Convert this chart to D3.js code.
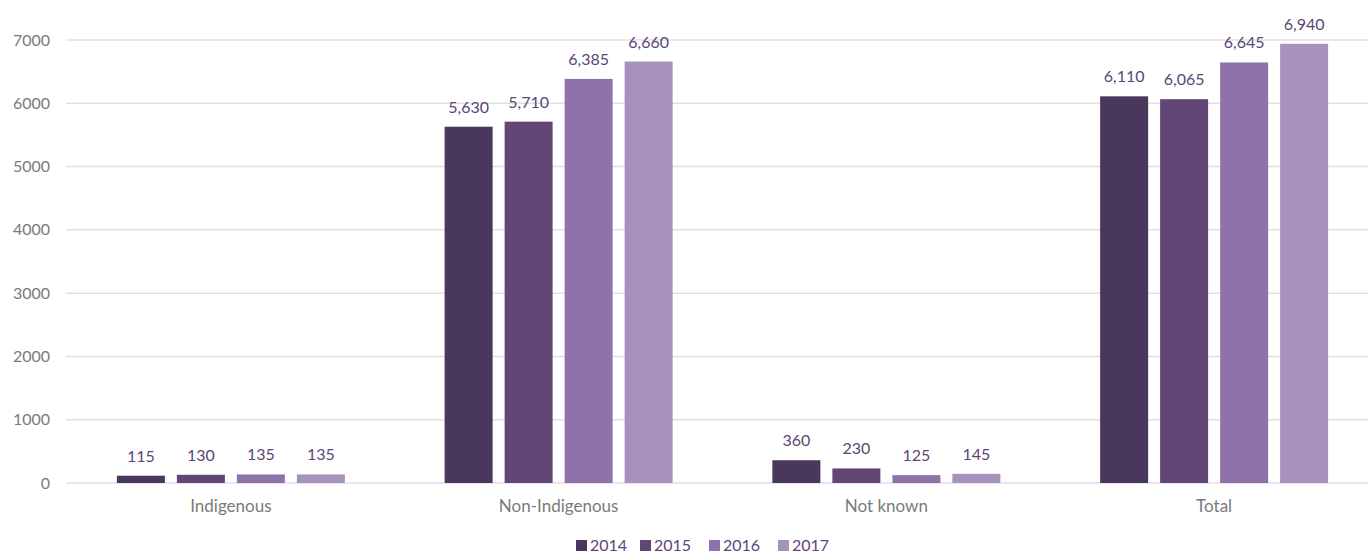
<!DOCTYPE html>
<html><head><meta charset="utf-8">
<script src="https://cdn.jsdelivr.net/npm/d3@7"></script>
<style>body{margin:0;background:#fff}svg{display:block;font-family:Lato,"Open Sans",sans-serif}</style>
</head><body><svg id="c" width="1368" height="554"></svg>
<script>
const categories = ["Indigenous","Non-Indigenous","Not known","Total"];
const years = ["2014","2015","2016","2017"];
const v2014 = [115,5630,360,6110];
const v2015 = [130,5710,230,6065];
const v2016 = [135,6385,125,6645];
const v2017 = [135,6660,145,6940];
const yTicks = [0,1000,2000,3000,4000,5000,6000,7000];
const series = [v2014,v2015,v2016,v2017];
const colors = ["#4a375c","#614676","#8e73aa","#a792bb"];

const svg = d3.select("#c");
const x0 = d3.scaleBand().domain(categories).range([67,1378]);
const y = d3.scaleLinear().domain([0,7000]).range([483,40]);
const x1 = d3.scaleBand().domain(years).range([-120,120]).paddingInner(0.2).paddingOuter(0.1);

// gridlines
svg.append("g").selectAll("line").data(yTicks.filter(d=>d>0)).join("line")
  .attr("x1",66).attr("x2",1368).attr("y1",d=>y(d)).attr("y2",d=>y(d))
  .attr("stroke","#e0e0e0").attr("stroke-width",1.5);
svg.append("line").attr("x1",66).attr("x2",1368).attr("y1",y(0)).attr("y2",y(0))
  .attr("stroke","#e3dcec").attr("stroke-width",1.5);

// y tick labels
svg.append("g").selectAll("text").data(yTicks).join("text")
  .attr("x",50).attr("y",d=>y(d)).attr("dy","0.35em").attr("text-anchor","end")
  .attr("fill","#7a7a7a").attr("font-size",16).text(d=>d);

// bars
const cats = svg.append("g").selectAll("g").data(categories).join("g")
  .attr("transform",d=>`translate(${x0(d)+x0.bandwidth()/2},0)`);
cats.each(function(c,ci){
  const g = d3.select(this);
  const data = years.map((yr,si)=>({yr,si,v:series[si][ci]}));
  g.selectAll("rect").data(data).join("rect")
    .attr("x",d=>x1(d.yr)).attr("width",x1.bandwidth())
    .attr("y",d=>y(d.v)).attr("height",d=>y(0)-y(d.v))
    .attr("fill",d=>colors[d.si]);
  g.selectAll("text.l").data(data).join("text").attr("class","l")
    .attr("x",d=>x1(d.yr)+x1.bandwidth()/2).attr("y",d=>y(d.v)-14)
    .attr("text-anchor","middle").attr("fill","#5b4676").attr("font-size",16)
    .text(d=>d3.format(",")(d.v));
});

// category labels
svg.append("g").selectAll("text").data(categories).join("text")
  .attr("x",d=>x0(d)+x0.bandwidth()/2).attr("y",512).attr("text-anchor","middle")
  .attr("fill","#7a7a7a").attr("font-size",17).text(d=>d);

// legend
const lg = svg.append("g");
const lx = [576,640,709,778];
years.forEach((yr,i)=>{
  lg.append("rect").attr("x",lx[i]).attr("y",540).attr("width",11).attr("height",11).attr("fill",colors[i]);
  lg.append("text").attr("x",lx[i]+14).attr("y",551).attr("fill","#5b4676").attr("font-size",16).text(yr);
});
</script></body></html>
